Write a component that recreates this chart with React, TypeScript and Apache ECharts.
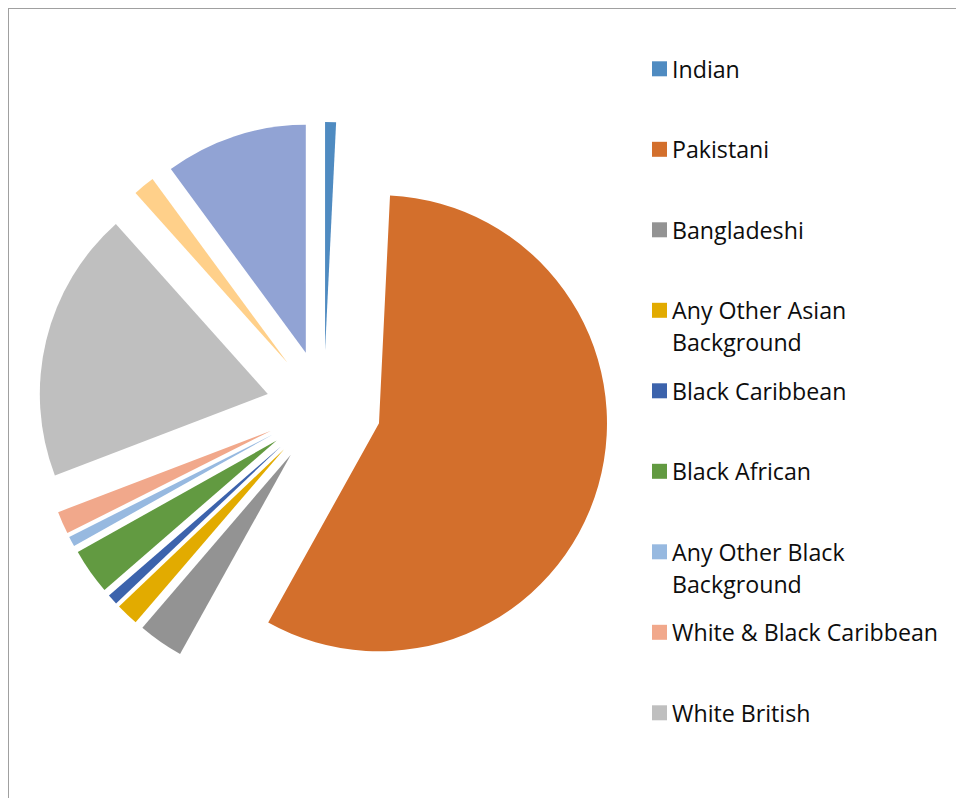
import React, { useEffect, useRef } from "react";
import * as echarts from "echarts";

// Categories shown in the legend (the legend is cut off after "White British")
const categories: string[] = [
  "Indian",
  "Pakistani",
  "Bangladeshi",
  "Any Other Asian Background",
  "Black Caribbean",
  "Black African",
  "Any Other Black Background",
  "White & Black Caribbean",
  "White British",
  "Any Other White Background",
  "Any Other Ethnic Group",
];

// Share of pupils (%)
const values: number[] = [0.77, 57.3, 3.21, 1.6, 0.74, 3.24, 0.72, 1.6, 19.2, 1.53, 10.08];

const colors: string[] = [
  "#4F8BC1",
  "#D36F2C",
  "#939393",
  "#E2AB00",
  "#3C63AC",
  "#629A41",
  "#97B9E0",
  "#F1A88B",
  "#BFBFBF",
  "#FFD08A",
  "#91A3D4",
];

const legendVisibleCount = 9;

export default function App() {
  const ref = useRef<HTMLDivElement>(null);

  useEffect(() => {
    if (!ref.current) return;
    const chart = echarts.init(ref.current, undefined, { renderer: "svg" });

    const legends = categories.slice(0, legendVisibleCount).map((name, i) => {
      const twoLine = name.indexOf(" Background") > 0;
      const center = 68.8 + i * 80.5;
      return {
        show: true,
        orient: "vertical" as const,
        left: 652,
        top: twoLine ? center - 48 : center - 16,
        padding: 0,
        itemWidth: 15,
        itemHeight: 15,
        itemGap: 0,
        icon: "rect",
        selectedMode: false,
        data: [name],
        formatter: (n: string) =>
          n.indexOf(" Background") > 0 ? "\n" + n.replace(" Background", "\nBackground") : n,
        textStyle: {
          fontFamily: "Open Sans",
          fontSize: 23.2,
          lineHeight: 32,
          color: "#0d0d0d",
        },
      };
    });

    chart.setOption({
      animation: false,
      color: colors,
      legend: legends,
      series: [
        {
          type: "pie",
          center: [323.7, 407.5],
          radius: 228,
          startAngle: 90,
          clockwise: true,
          selectedMode: "multiple",
          selectedOffset: 57.5,
          label: { show: false },
          labelLine: { show: false },
          emphasis: { disabled: true },
          itemStyle: { borderWidth: 0 },
          data: categories.map((name, i) => ({
            name,
            value: values[i],
            selected: true,
            itemStyle: { color: colors[i] },
            select: { itemStyle: { color: colors[i] } },
          })),
        },
      ],
    });

    return () => chart.dispose();
  }, []);

  return (
    <div>
      <div
        style={{
          position: "absolute",
          left: 8,
          top: 8,
          width: 960,
          height: 800,
          borderLeft: "1.5px solid #a0a0a0",
          borderTop: "1.5px solid #a0a0a0",
          boxSizing: "border-box",
        }}
      />
      <div
        ref={ref}
        style={{ position: "absolute", left: 0, top: 0, width: 956, height: 798 }}
      />
    </div>
  );
}
